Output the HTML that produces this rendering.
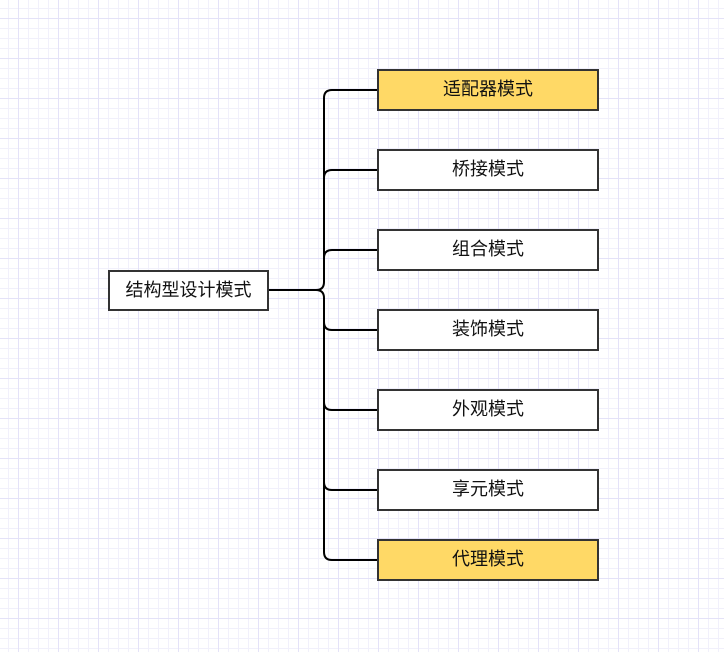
<!DOCTYPE html>
<html><head><meta charset="utf-8"><style>
html,body{margin:0;padding:0;width:724px;height:652px;overflow:hidden;background:#fff}
body{background-image:
linear-gradient(to right,#e4e2f8 1px,transparent 1px),
linear-gradient(to bottom,#e4e2f8 1px,transparent 1px),
linear-gradient(to right,#f1f0fb 1px,transparent 1px),
linear-gradient(to bottom,#f1f0fb 1px,transparent 1px);
background-size:40px 40px,40px 40px,10px 10px,10px 10px;
background-position:18px 18px,18px 18px,8px 8px,8px 8px}
.b{position:absolute;box-sizing:border-box;border:2px solid #333;background:#fff;display:flex;align-items:center;justify-content:center;font:18px/1 "Liberation Sans","Noto Sans CJK SC",sans-serif;color:#111;padding-bottom:2px}
.y{background:#ffd966}
svg{position:absolute;left:0;top:0}
</style></head><body>
<svg width="724" height="652" fill="none" stroke="#000" stroke-width="2">
<path d="M268 290H316Q324 290 324 282V98Q324 90 332 90H378"/>
<path d="M324 178Q324 170 332 170H378"/>
<path d="M324 258Q324 250 332 250H378"/>
<path d="M268 290H316Q324 290 324 298V552Q324 560 332 560H378"/>
<path d="M324 322Q324 330 332 330H378"/>
<path d="M324 402Q324 410 332 410H378"/>
<path d="M324 482Q324 490 332 490H378"/>
</svg>
<div class="b" style="left:108px;top:270px;width:161px;height:41px">结构型设计模式</div>
<div class="b y" style="left:377px;top:69px;width:222px;height:42px">适配器模式</div>
<div class="b" style="left:377px;top:149px;width:222px;height:42px">桥接模式</div>
<div class="b" style="left:377px;top:229px;width:222px;height:42px">组合模式</div>
<div class="b" style="left:377px;top:309px;width:222px;height:42px">装饰模式</div>
<div class="b" style="left:377px;top:389px;width:222px;height:42px">外观模式</div>
<div class="b" style="left:377px;top:469px;width:222px;height:42px">享元模式</div>
<div class="b y" style="left:377px;top:539px;width:222px;height:42px">代理模式</div>
</body></html>
